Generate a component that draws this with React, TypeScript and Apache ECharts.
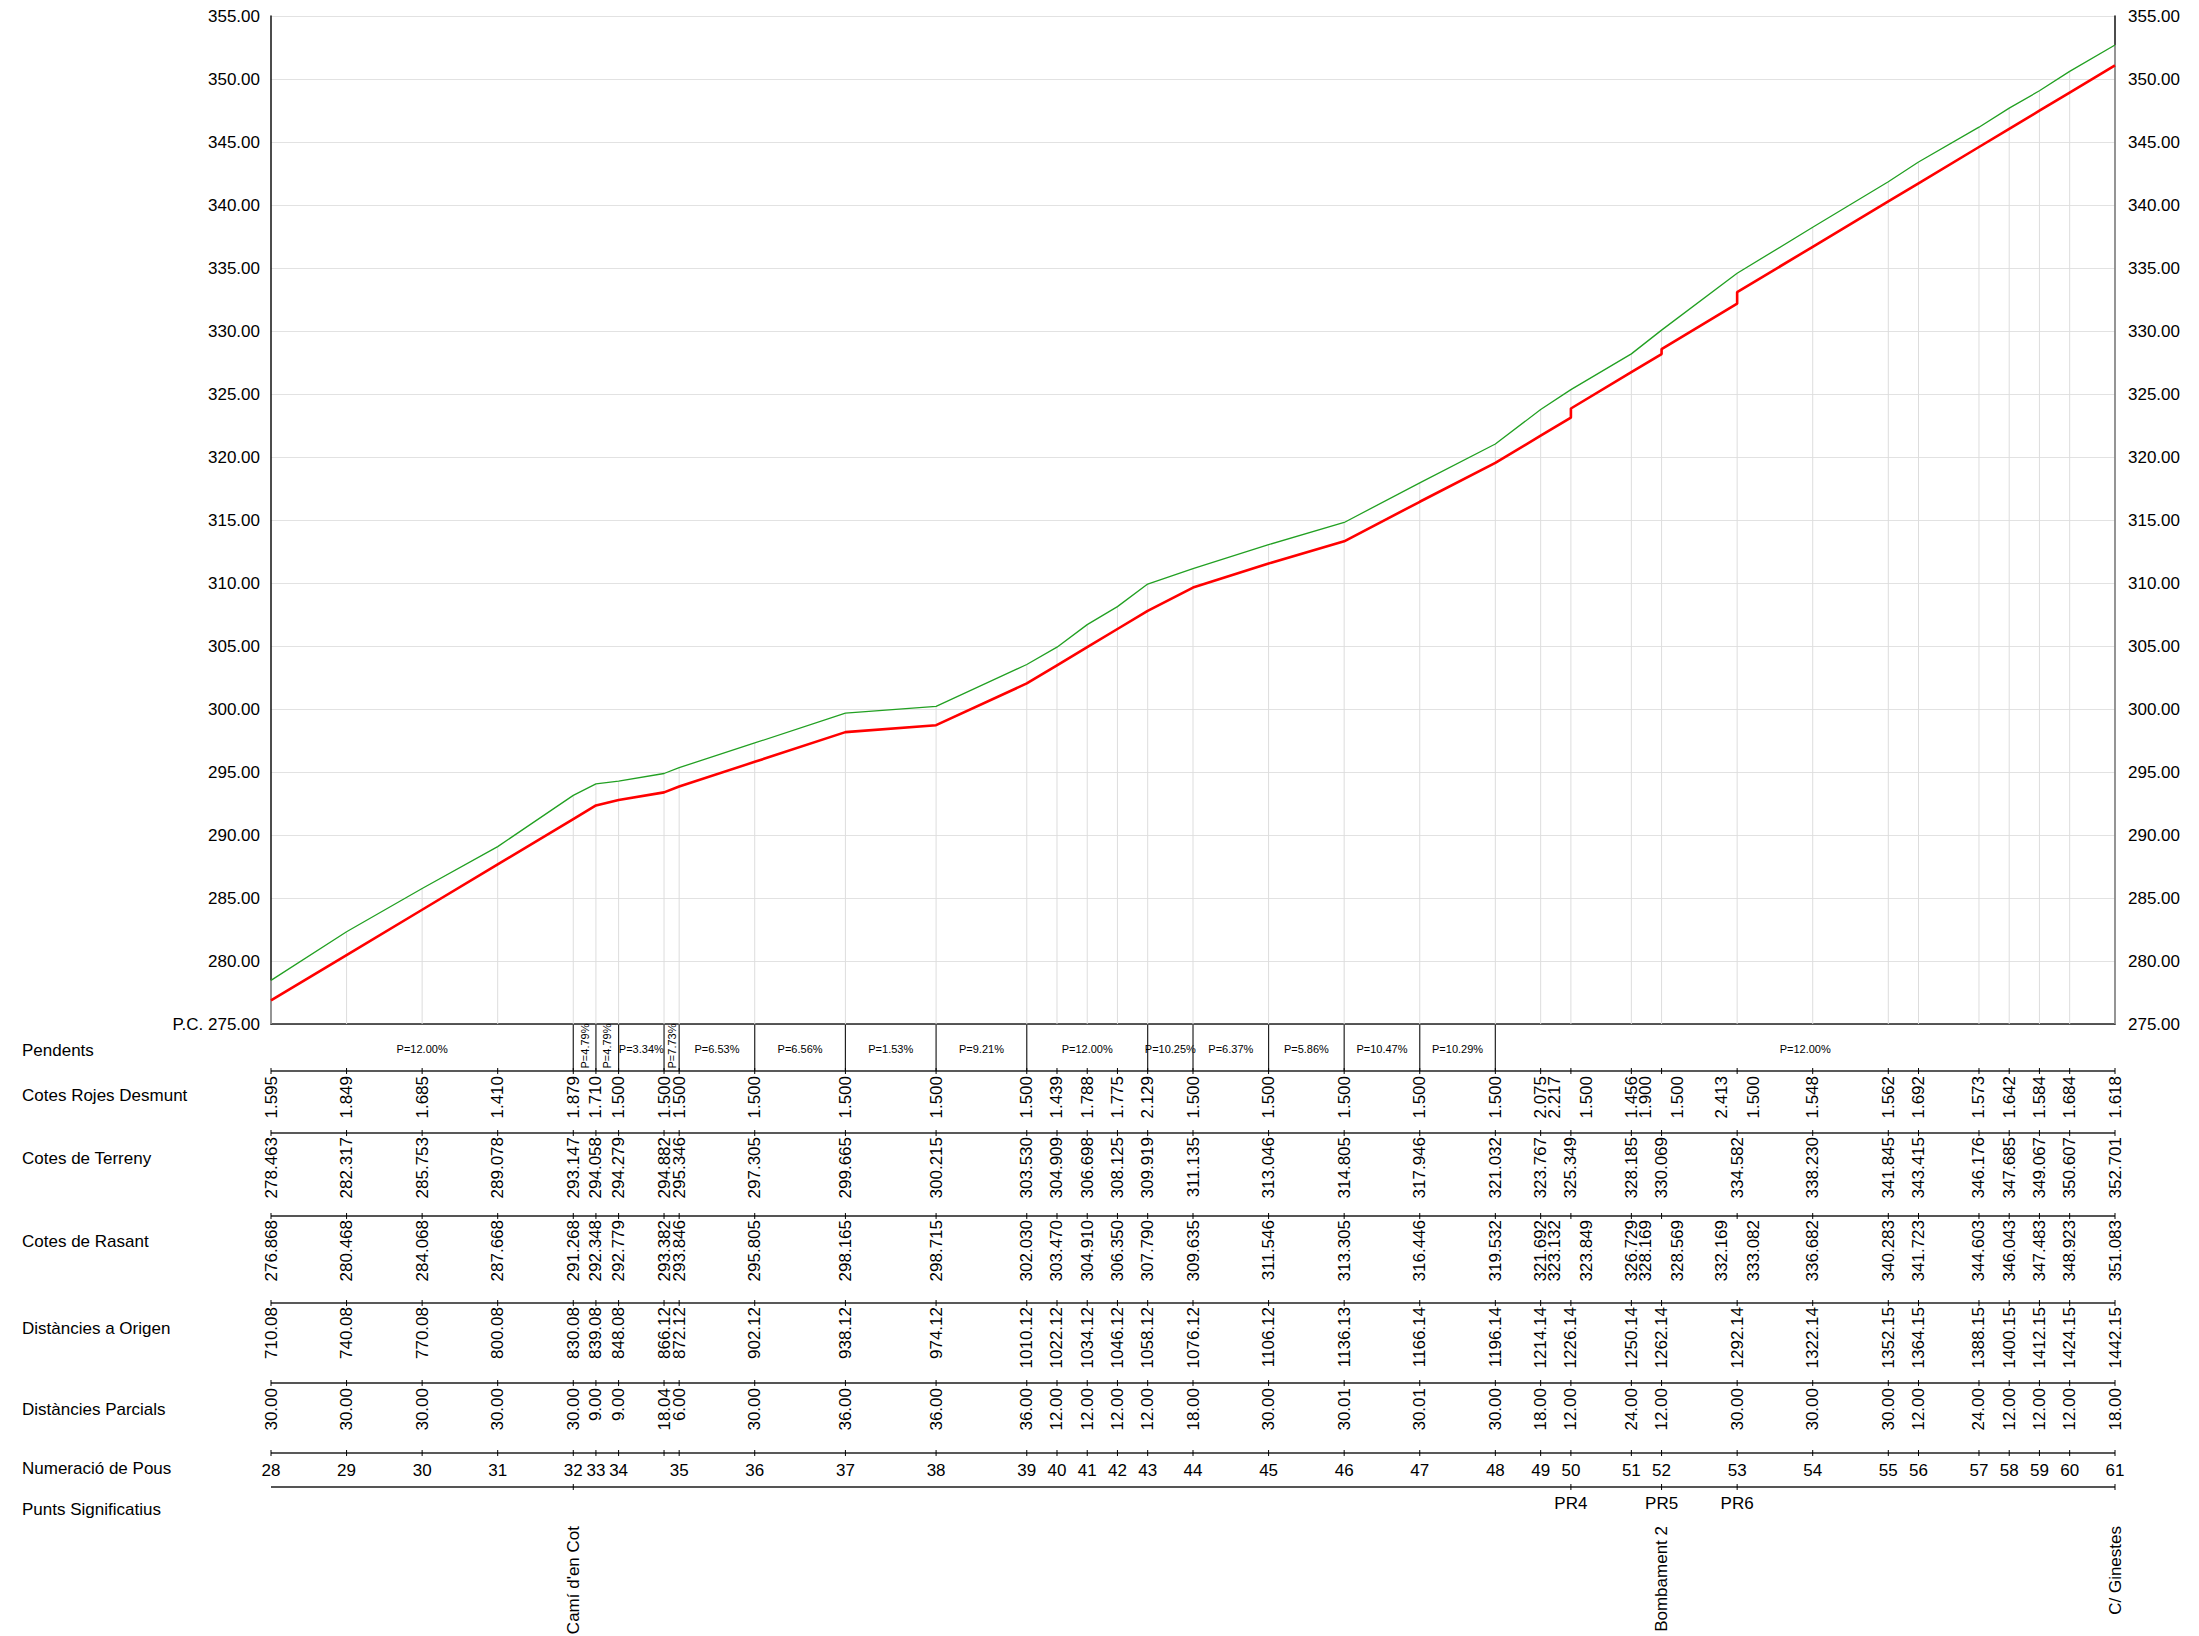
import React, { useEffect, useRef } from 'react';
import * as echarts from 'echarts';

// ---------- DATA ----------
const distances = [710.08, 740.08, 770.08, 800.08, 830.08, 839.08, 848.08, 866.12, 872.12, 902.12, 938.12, 974.12, 1010.12, 1022.12, 1034.12, 1046.12, 1058.12, 1076.12, 1106.12, 1136.13, 1166.14, 1196.14, 1214.14, 1226.14, 1250.14, 1262.14, 1292.14, 1322.14, 1352.15, 1364.15, 1388.15, 1400.15, 1412.15, 1424.15, 1442.15];
const wellNumbers: (number | null)[] = [28, 29, 30, 31, 32, 33, 34, null, 35, 36, 37, 38, 39, 40, 41, 42, 43, 44, 45, 46, 47, 48, 49, 50, 51, 52, 53, 54, 55, 56, 57, 58, 59, 60, 61];
const terrainLevels = [278.463, 282.317, 285.753, 289.078, 293.147, 294.058, 294.279, 294.882, 295.346, 297.305, 299.665, 300.215, 303.530, 304.909, 306.698, 308.125, 309.919, 311.135, 313.046, 314.805, 317.946, 321.032, 323.767, 325.349, 328.185, 330.069, 334.582, 338.230, 341.845, 343.415, 346.176, 347.685, 349.067, 350.607, 352.701];
// rasant (downstream side) and, where there is a drop, the upstream invert
const rasantLevels = [276.868, 280.468, 284.068, 287.668, 291.268, 292.348, 292.779, 293.382, 293.846, 295.805, 298.165, 298.715, 302.030, 303.470, 304.910, 306.350, 307.790, 309.635, 311.546, 313.305, 316.446, 319.532, 321.692, 323.132, 326.729, 328.169, 332.169, 336.682, 340.283, 341.723, 344.603, 346.043, 347.483, 348.923, 351.083];
const rasantUpper: (number | null)[] = [null, null, null, null, null, null, null, null, null, null, null, null, null, null, null, null, null, null, null, null, null, null, null, 323.849, null, 328.569, 333.082, null, null, null, null, null, null, null, null];
const coverDepths = [1.595, 1.849, 1.685, 1.410, 1.879, 1.710, 1.500, 1.500, 1.500, 1.500, 1.500, 1.500, 1.500, 1.439, 1.788, 1.775, 2.129, 1.500, 1.500, 1.500, 1.500, 1.500, 2.075, 2.217, 1.456, 1.900, 2.413, 1.548, 1.562, 1.692, 1.573, 1.642, 1.584, 1.684, 1.618];
const coverDepthsUpper: (number | null)[] = [null, null, null, null, null, null, null, null, null, null, null, null, null, null, null, null, null, null, null, null, null, null, null, 1.500, null, 1.500, 1.500, null, null, null, null, null, null, null, null];
const partialDistances = [30.00, 30.00, 30.00, 30.00, 30.00, 9.00, 9.00, 18.04, 6.00, 30.00, 36.00, 36.00, 36.00, 12.00, 12.00, 12.00, 12.00, 18.00, 30.00, 30.01, 30.01, 30.00, 18.00, 12.00, 24.00, 12.00, 30.00, 30.00, 30.00, 12.00, 24.00, 12.00, 12.00, 12.00, 18.00];
const slopeBreaks = [710.08, 830.08, 839.08, 848.08, 866.12, 872.12, 902.12, 938.12, 974.12, 1010.12, 1058.12, 1076.12, 1106.12, 1136.13, 1166.14, 1196.14, 1442.15];
const slopeLabels = ['P=12.00%', 'P=4.79%', 'P=4.79%', 'P=3.34%', 'P=7.73%', 'P=6.53%', 'P=6.56%', 'P=1.53%', 'P=9.21%', 'P=12.00%', 'P=10.25%', 'P=6.37%', 'P=5.86%', 'P=10.47%', 'P=10.29%', 'P=12.00%'];
const prIndex = [23, 25, 26];
const prLabels = ['PR4', 'PR5', 'PR6'];
const placeIndex = [4, 25, 34];
const placeNames = ["Camí d'en Cot", 'Bombament 2', 'C/ Ginestes'];
const rowLabels = ['Pendents', 'Cotes Rojes Desmunt', 'Cotes de Terreny', 'Cotes de Rasant', 'Distàncies a Origen', 'Distàncies Parcials', 'Numeració de Pous', 'Punts Significatius'];
const Y_MIN = 275;
const Y_MAX = 355;
const Y_STEP = 5;

// ---------- LAYOUT ----------
const FONT = 'Liberation Sans, Arial, Helvetica, sans-serif';
const GRID = { left: 271, right: 84, top: 16, bottom: 612 };
const ROW = { pendTop: 1025, pendBot: 1071, rojes: 1071, terr: 1133, ras: 1216, orig: 1303, parc: 1383, num: 1453, punts: 1487 };
const LABEL_Y = [1052, 1097, 1160, 1243, 1330, 1411, 1470, 1511];
const DUP_OFF = 16;

function vtext(x: number, y: number, text: string, size = 17, align = 'right') {
  return {
    type: 'text',
    x,
    y,
    rotation: Math.PI / 2,
    style: { text, fill: '#000', fontSize: size, fontFamily: FONT, align, verticalAlign: 'middle' },
  };
}
function htext(x: number, y: number, text: string, size = 17) {
  return {
    type: 'text',
    x,
    y,
    style: { text, fill: '#000', fontSize: size, fontFamily: FONT, align: 'center', verticalAlign: 'middle' },
  };
}
function hline(x1: number, x2: number, y: number, color = '#333', w = 1.5) {
  return { type: 'line', shape: { x1, y1: y, x2, y2: y }, style: { stroke: color, lineWidth: w } };
}
function vline(x: number, y1: number, y2: number, color = '#000', w = 1) {
  return { type: 'line', shape: { x1: x, y1, x2: x, y2 }, style: { stroke: color, lineWidth: w } };
}

export default function App() {
  const ref = useRef<HTMLDivElement>(null);
  useEffect(() => {
    if (!ref.current) return;
    const chart = echarts.init(ref.current, undefined, { renderer: 'svg' });

    const terrainData = distances.map((d, i) => [d, terrainLevels[i]]);
    const rasantData: number[][] = [];
    distances.forEach((d, i) => {
      rasantData.push([d, rasantLevels[i]]);
      const u = rasantUpper[i];
      if (u != null) rasantData.push([d, u]);
    });
    const pointData = distances.map((d, i) => [d, Y_MIN, i]);
    const segData = slopeLabels.map((_, k) => [slopeBreaks[k], slopeBreaks[k + 1], Y_MIN, k]);

    const option: any = {
      animation: false,
      backgroundColor: '#fff',
      grid: { ...GRID, containLabel: false },
      xAxis: {
        type: 'value',
        min: distances[0],
        max: distances[distances.length - 1],
        axisLine: { show: true, lineStyle: { color: '#222', width: 1.5 } },
        axisTick: { show: false },
        axisLabel: { show: false },
        splitLine: { show: false },
      },
      yAxis: [
        {
          type: 'value',
          min: Y_MIN,
          max: Y_MAX,
          interval: Y_STEP,
          position: 'left',
          axisLine: { show: true, lineStyle: { color: '#111', width: 1.5 } },
          axisTick: { show: false },
          axisLabel: {
            margin: 11,
            color: '#000',
            fontSize: 17,
            fontFamily: FONT,
            formatter: (v: number) => (v === Y_MIN ? 'P.C. ' + v.toFixed(2) : v.toFixed(2)),
          },
          splitLine: { show: true, lineStyle: { color: '#e2e2e2', width: 1 } },
        },
        {
          type: 'value',
          min: Y_MIN,
          max: Y_MAX,
          interval: Y_STEP,
          position: 'right',
          axisLine: { show: true, lineStyle: { color: '#111', width: 1.5 } },
          axisTick: { show: false },
          axisLabel: { margin: 13, color: '#000', fontSize: 17, fontFamily: FONT, formatter: (v: number) => v.toFixed(2) },
          splitLine: { show: false },
        },
      ],
      graphic: rowLabels.map((t, k) => ({
        type: 'text',
        left: 22,
        top: LABEL_Y[k] - 10,
        style: { text: t, fill: '#000', fontSize: 17, fontFamily: FONT },
      })),
      series: [
        {
          type: 'custom',
          name: 'verticals',
          z: 1,
          data: pointData,
          encode: { x: 0, y: 1 },
          renderItem: (params: any, api: any) => {
            const i = api.value(2);
            const p0 = api.coord([api.value(0), Y_MIN]);
            const p1 = api.coord([api.value(0), terrainLevels[i]]);
            return { type: 'line', shape: { x1: p0[0], y1: p0[1], x2: p1[0], y2: p1[1] }, style: { stroke: '#dddddd', lineWidth: 1 } };
          },
        },
        {
          type: 'line',
          name: 'Cotes de Terreny',
          z: 3,
          data: terrainData,
          symbol: 'none',
          lineStyle: { color: '#22a022', width: 1.3 },
        },
        {
          type: 'line',
          name: 'Cotes de Rasant',
          z: 4,
          data: rasantData,
          symbol: 'none',
          lineStyle: { color: '#ff0000', width: 2.6 },
        },
        {
          type: 'custom',
          name: 'pendents',
          z: 5,
          data: segData,
          encode: { x: [0, 1], y: 2 },
          renderItem: (params: any, api: any) => {
            const k = api.value(3);
            const x1 = api.coord([api.value(0), Y_MIN])[0];
            const x2 = api.coord([api.value(1), Y_MIN])[0];
            const children: any[] = [];
            if (k > 0) children.push(vline(x1, ROW.pendTop, ROW.pendBot, '#222', 1.2));
            const cx = (x1 + x2) / 2;
            if (x2 - x1 < 35) {
              children.push(vtext(cx, 1046, slopeLabels[k], 11, 'center'));
            } else {
              children.push(htext(cx, 1049, slopeLabels[k], 11));
            }
            return { type: 'group', children };
          },
        },
        {
          type: 'custom',
          name: 'table',
          z: 5,
          data: pointData,
          encode: { x: 0, y: 1 },
          renderItem: (params: any, api: any) => {
            const i = api.value(2);
            const x = api.coord([api.value(0), Y_MIN])[0];
            const children: any[] = [];
            if (i === 0) {
              const xa = api.coord([distances[0], Y_MIN])[0];
              const xb = api.coord([distances[distances.length - 1], Y_MIN])[0];
              [ROW.rojes, ROW.terr, ROW.ras, ROW.orig, ROW.parc, ROW.num, ROW.punts].forEach((y, k) => {
                children.push(hline(xa, xb, y, k === 2 || k === 4 || k === 6 ? '#555' : '#222', k === 2 || k === 4 || k === 6 ? 2 : 1.5));
              });
            }
            [ROW.rojes, ROW.terr, ROW.ras, ROW.orig, ROW.parc, ROW.num].forEach((y) => {
              children.push(vline(x, y - 3, y + 3, '#000', 1));
            });
            const up = rasantUpper[i];
            const cu = coverDepthsUpper[i];
            if (up != null && cu != null) {
              children.push(vtext(x - DUP_OFF, ROW.rojes + 5, coverDepths[i].toFixed(3)));
              children.push(vtext(x + DUP_OFF, ROW.rojes + 5, cu.toFixed(3)));
              children.push(vtext(x - DUP_OFF, ROW.ras + 4, rasantLevels[i].toFixed(3)));
              children.push(vtext(x + DUP_OFF, ROW.ras + 4, up.toFixed(3)));
            } else {
              children.push(vtext(x, ROW.rojes + 5, coverDepths[i].toFixed(3)));
              children.push(vtext(x, ROW.ras + 4, rasantLevels[i].toFixed(3)));
            }
            children.push(vtext(x, ROW.terr + 4, terrainLevels[i].toFixed(3)));
            children.push(vtext(x, ROW.orig + 4, distances[i].toFixed(2)));
            children.push(vtext(x, ROW.parc + 5, partialDistances[i].toFixed(2)));
            const w = wellNumbers[i];
            if (w != null) children.push(htext(x, 1470, String(w), 17));
            const pr = prIndex.indexOf(i);
            if (pr >= 0) children.push(htext(x, 1503, prLabels[pr], 17));
            const pl = placeIndex.indexOf(i);
            if (pl >= 0) children.push(vtext(x, 1526, placeNames[pl], 17));
            if (pr >= 0 || pl >= 0) children.push(vline(x, ROW.punts - 3, ROW.punts + 3, '#000', 1));
            return { type: 'group', children };
          },
        },
      ],
    };
    chart.setOption(option);
    return () => chart.dispose();
  }, []);
  return <div ref={ref} style={{ position: 'fixed', left: 0, top: 0, width: 2199, height: 1636, background: '#fff' }} />;
}
